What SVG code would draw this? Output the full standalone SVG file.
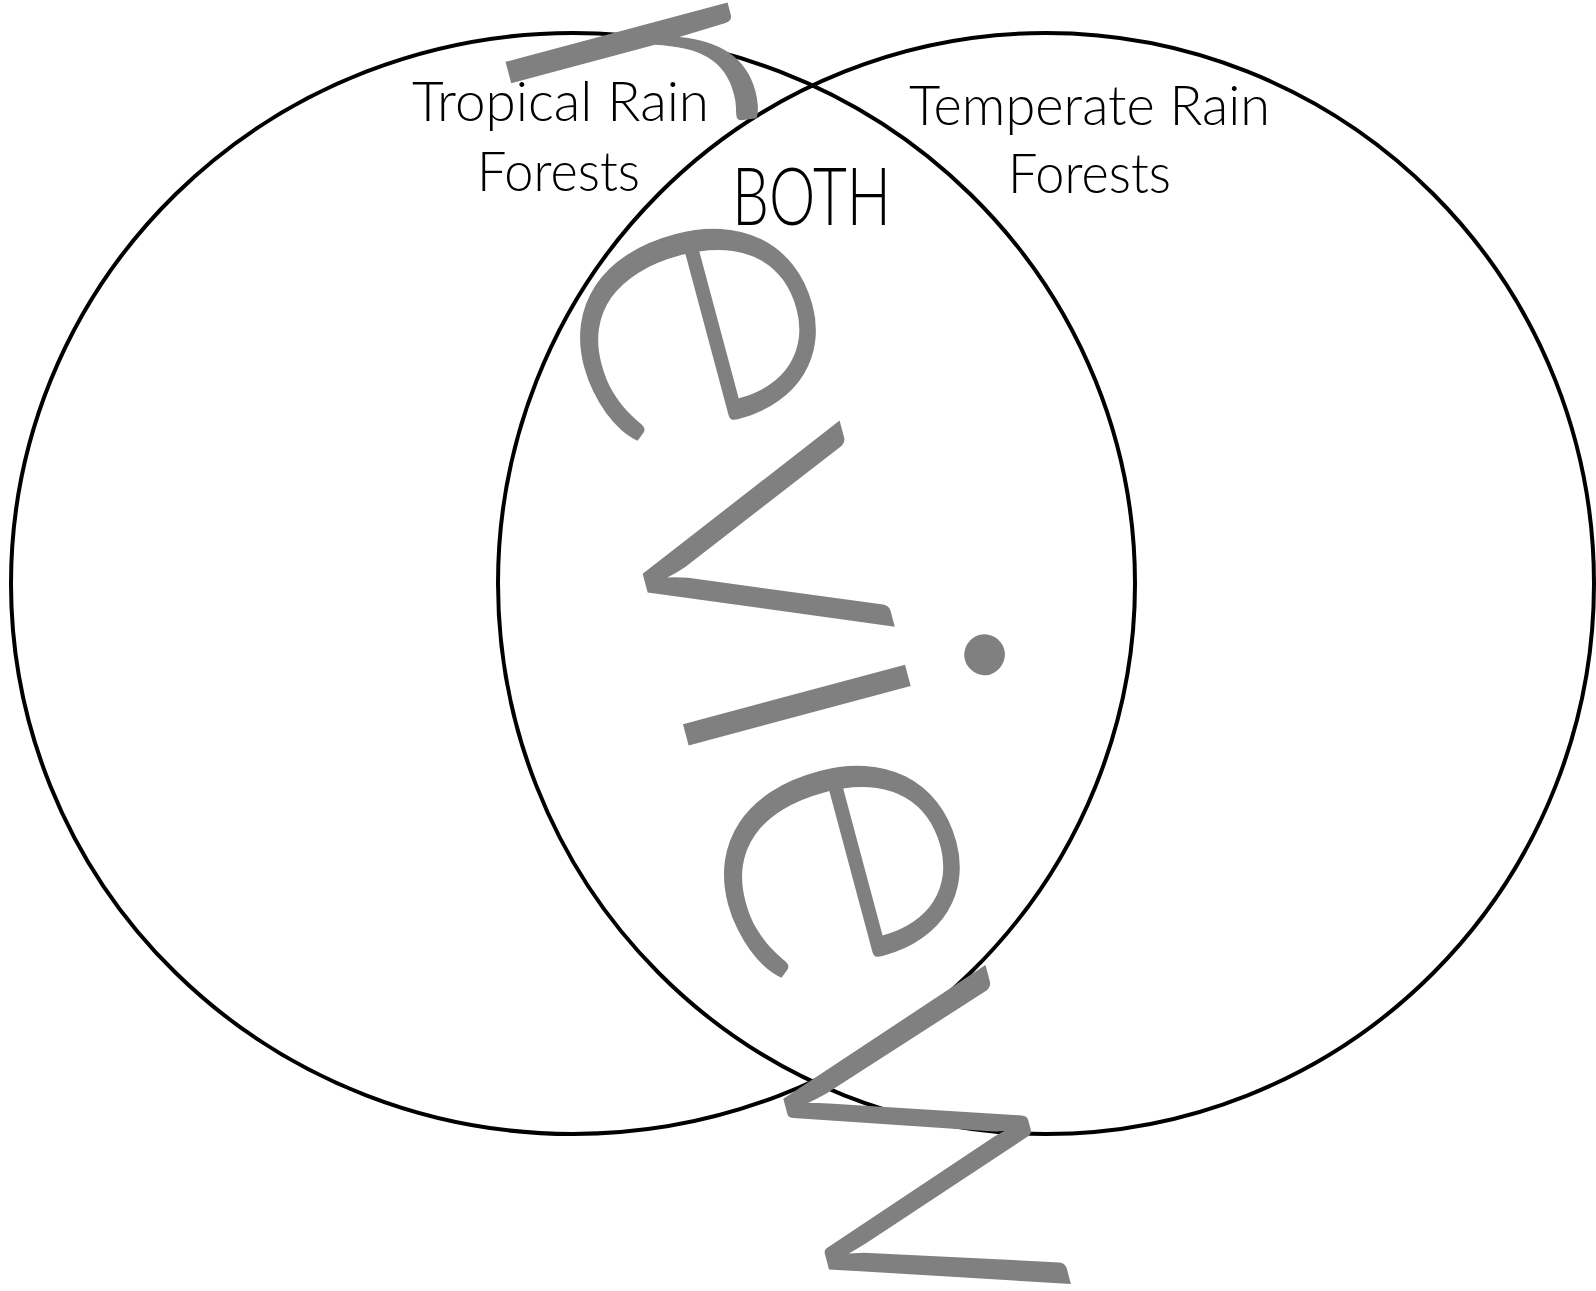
<svg xmlns="http://www.w3.org/2000/svg" width="1596" height="1291" viewBox="0 0 1596 1291">
<style>
.ring{fill:none;stroke:#000;stroke-width:4}
.lbl{font-family:Lato,"Liberation Sans",sans-serif;font-weight:300;fill:#000}
.wm{font-family:Lato,"Liberation Sans",sans-serif;font-weight:300;fill:#808080;font-size:462px}
</style>
<rect width="1596" height="1291" fill="#fff"/>
<g id="left-circle"><ellipse class="ring" cx="573" cy="583.5" rx="562" ry="550.5"/></g>
<g id="right-circle"><ellipse class="ring" cx="1046" cy="583.5" rx="548" ry="550.5"/></g>
<g id="label-tropical">
<text class="lbl" x="412" y="121" font-size="56" textLength="297" lengthAdjust="spacingAndGlyphs">Tropical Rain</text>
<text class="lbl" x="477" y="191" font-size="56" textLength="163" lengthAdjust="spacingAndGlyphs">Forests</text>
</g>
<g id="label-temperate">
<text class="lbl" x="909" y="125" font-size="56" textLength="361" lengthAdjust="spacingAndGlyphs">Temperate Rain</text>
<text class="lbl" x="1008" y="193" font-size="56" textLength="163" lengthAdjust="spacingAndGlyphs">Forests</text>
</g>
<g id="label-both">
<text class="lbl" x="732" y="225" font-size="80" textLength="159" lengthAdjust="spacingAndGlyphs">BOTH</text>
</g>
<g id="connectors"/>
<g id="watermark">
<text class="wm" transform="translate(647,590) rotate(75)" text-anchor="middle" x="-503 -240 -7 150 316 615" y="0">review</text>
</g>
</svg>
